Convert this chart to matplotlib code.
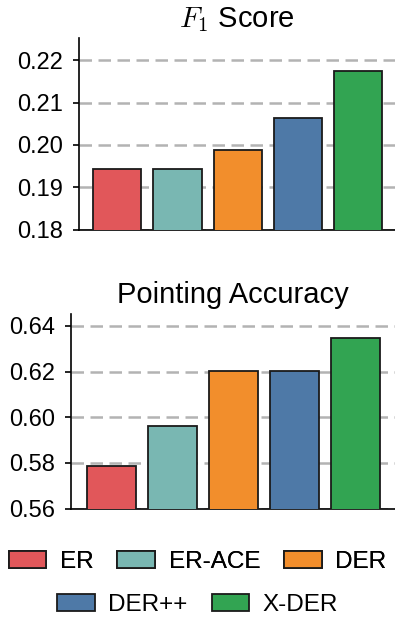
import matplotlib
matplotlib.use("Agg")
import matplotlib.pyplot as plt
from matplotlib.patches import Patch

plt.rcParams['font.family'] = ['Liberation Sans', 'DejaVu Sans']
plt.rcParams['mathtext.fontset'] = 'cm'

methods = ['ER', 'ER-ACE', 'DER', 'DER++', 'X-DER']
colors = ['#e1575a', '#79b7b2', '#f28e2c', '#4e79a7', '#32a452']

f1_score = [0.1944, 0.1944, 0.1989, 0.2064, 0.2175]
pointing_acc = [0.5787, 0.5964, 0.6203, 0.6203, 0.6346]

f1_ticks = [0.18, 0.19, 0.20, 0.21, 0.22]
pa_ticks = [0.56, 0.58, 0.60, 0.62, 0.64]

fig = plt.figure(figsize=(3.95, 6.18), dpi=100)
ax1 = fig.add_axes([0.200, 0.628, 0.800, 0.3105])
ax2 = fig.add_axes([0.1805, 0.177, 0.8195, 0.3144])


def draw(ax, vals, ticks, ylim, xlim, title):
    x = range(len(vals))
    ax.bar(x, vals, width=0.8, color=colors, edgecolor='#1a1a1a',
           linewidth=1.3, zorder=3)
    ax.set_ylim(*ylim)
    ax.set_xlim(*xlim)
    ax.set_yticks(ticks)
    ax.set_yticklabels(['%.2f' % t for t in ticks])
    ax.set_xticks([])
    ax.yaxis.grid(True, linestyle=(0, (5, 2.6)), color='#b3b3b3', linewidth=1.8, zorder=0)
    ax.set_axisbelow(True)
    for s in ['top', 'right']:
        ax.spines[s].set_visible(False)
    for s in ['left', 'bottom']:
        ax.spines[s].set_linewidth(1.2)
    ax.tick_params(axis='y', labelsize=17, length=4.5, width=1.2, pad=7)
    ax.set_title(title, fontsize=21, pad=8)


draw(ax1, f1_score, f1_ticks, (0.18, 0.2252), (-0.64, 4.62), r'$F_1$ Score')
draw(ax2, pointing_acc, pa_ticks, (0.56, 0.6451), (-0.66, 4.65), 'Pointing Accuracy')

handles = [Patch(facecolor=c, edgecolor='#1a1a1a', linewidth=1.3) for c in colors]
leg_kw = dict(frameon=False, fontsize=17.5, handlelength=1.55, handleheight=0.7,
              handletextpad=0.55, columnspacing=1.0, borderpad=0)
leg1 = fig.legend(handles[:3], methods[:3], ncol=3, loc='center',
                  bbox_to_anchor=(0.5, 1 - 562 / 618), **leg_kw)
fig.add_artist(leg1)
fig.legend(handles[3:], methods[3:], ncol=2, loc='center',
           bbox_to_anchor=(0.5, 1 - 605 / 618), **leg_kw)

fig.savefig('out.png', dpi=100)
